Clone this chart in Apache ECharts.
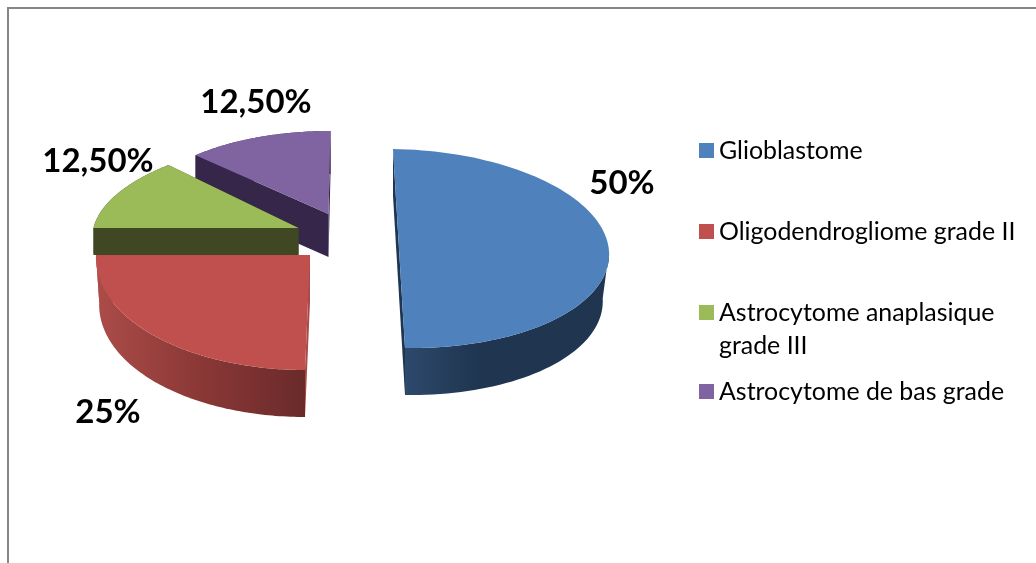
<!DOCTYPE html>
<html>
<head>
<meta charset="utf-8">
<style>html,body{margin:0;padding:0;background:#fff}#c{width:1036px;height:563px}</style>
<script src="https://cdn.jsdelivr.net/npm/echarts@6/dist/echarts.min.js"></script>
</head>
<body>
<div id="c"></div>
<script>
var categories = ['Glioblastome', 'Oligodendrogliome grade II', 'Astrocytome anaplasique grade III', 'Astrocytome de bas grade'];
var values = [50, 25, 12.5, 12.5];
var valueLabels = ['50%', '25%', '12,50%', '12,50%'];

var colors = ['#4F81BD', '#C0504D', '#9BBB59', '#8064A2'];
var total = values.reduce(function (a, b) { return a + b; }, 0);

// projected pie geometry of each exploded slice
var geometry = [
  { c: [399, 248.5], u: [210, 3], v: [6, 99.5], d: 47, k: 0.97, wallFrom: 0.5, side: '#1F3552', wall: ['#2F4C70', '#1F3550', '#1F3550'], stop: 0.4, label: [622, 183] },
  { c: [310, 255], u: [214, 0], v: [-5, 115], d: 47, k: 0.985, wallFrom: 0, side: '#A84A47', wall: ['#AC4C49', '#8A3836', '#6A2A2A'], stop: 0.5, label: [108, 412] },
  { c: [298.5, 228], u: [205, 0], v: [-21, 89], d: 27, k: 1, wallFrom: 0, side: '#3F4822', wall: ['#3F4822', '#3F4822', '#3F4822'], stop: 0.5, label: [98, 161] },
  { c: [328.5, 214], u: [190, 0], v: [-2, 83], d: 43, k: 1, wallFrom: 0, side: '#35264A', wall: ['#35264A', '#35264A', '#35264A'], stop: 0.5, label: [256, 102] }
];
var legendTops = [134, 215, 263, 375];
var seriesOrder = [14, 13, 12, 11]; // near slices cover the far ones

function point(g, a, dy) {
  var s = Math.sin(a), c = Math.cos(a), k = dy ? g.k : 1;
  return [g.c[0] + s * g.u[0] * k - c * g.v[0], g.c[1] + s * g.u[1] * k - c * g.v[1] + (dy || 0)];
}

function renderer(idx) {
  return function (params, api) {
    var before = 0;
    for (var i = 0; i < idx; i++) before += values[i];
    var a0 = before / total * Math.PI * 2;
    var a1 = (before + api.value(0)) / total * Math.PI * 2;
    var g = geometry[idx];
    var arc = [], low = [], n = 90;
    for (var k = 0; k <= n; k++) {
      var a = a0 + (a1 - a0) * k / n;
      arc.push(point(g, a));
      low.push(point(g, a, g.d));
    }
    var minX = Infinity, maxX = -Infinity;
    arc.forEach(function (p) { minX = Math.min(minX, p[0]); maxX = Math.max(maxX, p[0]); });
    var apex = g.c, apexLow = [g.c[0], g.c[1] + g.d];
    var fs = arc[0], fe = arc[n], ls = low[0], le = low[n];
    var wallFill = {
      type: 'linear', x: minX, y: 0, x2: maxX, y2: 0, global: true,
      colorStops: [{ offset: 0, color: g.wall[0] }, { offset: g.stop, color: g.wall[1] }, { offset: 1, color: g.wall[2] }]
    };
    var cutA = idx === 0 ? [point(g, 0), point(g, 0, g.d), point(g, Math.PI, g.d), point(g, Math.PI)]
      : [apex, apexLow, ls, fs];
    var cutB = idx === 0 ? null : [apex, apexLow, le, fe];
    var children = [
      { type: 'polygon', shape: { points: cutA }, style: { fill: g.side } }
    ];
    if (cutB) children.push({ type: 'polygon', shape: { points: cutB }, style: { fill: g.side } });
    var from = Math.round(n * g.wallFrom);
    children.push({ type: 'polygon', shape: { points: arc.slice(from).concat(low.slice(from).reverse()) }, style: { fill: wallFill } });
    children.push({ type: 'polygon', shape: { points: (idx === 0 ? [] : [apex]).concat(arc) }, style: { fill: colors[idx] } });
    children.push({
      type: 'text', z2: 50,
      style: {
        x: g.label[0], y: g.label[1], text: valueLabels[idx], align: 'center', verticalAlign: 'middle',
        fill: '#000', font: 'bold 33px Lato, Carlito, sans-serif'
      }
    });
    return { type: 'group', children: children };
  };
}

var series = categories.map(function (name, i) {
  return {
    type: 'custom', name: name, coordinateSystem: 'none', data: [[values[i]]], z: seriesOrder[i],
    itemStyle: { color: colors[i] }, renderItem: renderer(i), animation: false, silent: true
  };
});

var legends = categories.map(function (name, i) {
  return {
    left: 699, top: legendTops[i], orient: 'vertical', selectedMode: false, padding: 0,
    data: [{ name: name, icon: 'rect' }], itemWidth: 15, itemHeight: 15,
    textStyle: { fontFamily: 'Lato, Carlito, sans-serif', fontSize: 24.9, color: '#000', lineHeight: 33 },
    formatter: function (n) {
      return n === categories[2] ? '\nAstrocytome anaplasique\ngrade III' : n;
    }
  };
});

var chart = echarts.init(document.getElementById('c'), null, { renderer: 'canvas' });
chart.setOption({
  backgroundColor: '#fff',
  animation: false,
  legend: legends,
  tooltip: { show: false },
  graphic: [
    { type: 'rect', shape: { x: 7, y: 7, width: 1029, height: 2 }, style: { fill: '#868686' } },
    { type: 'rect', shape: { x: 7, y: 7, width: 2, height: 556 }, style: { fill: '#868686' } }
  ],
  series: series
});
</script>
</body>
</html>
